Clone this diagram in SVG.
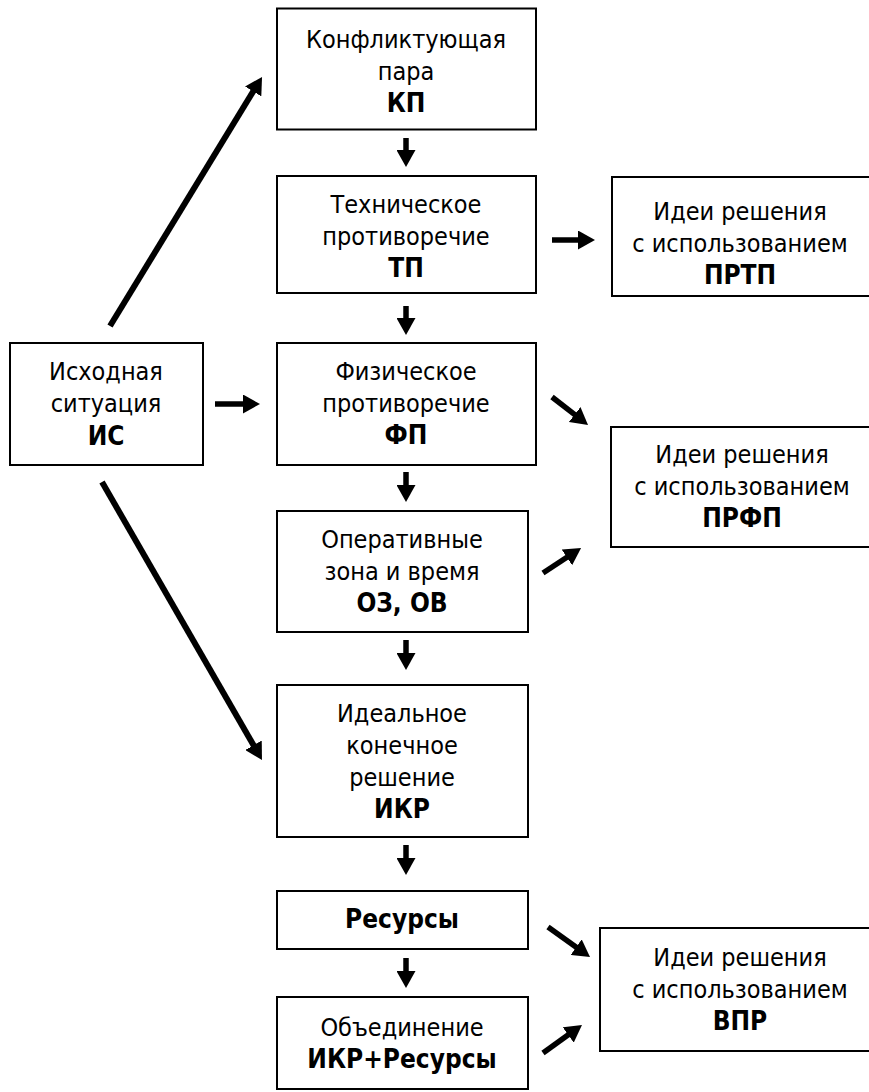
<svg xmlns="http://www.w3.org/2000/svg" width="869" height="1092" viewBox="0 0 869 1092">
<style>
.box{fill:#fff;stroke:#000;stroke-width:2}
text{font-family:"DejaVu Sans Condensed","DejaVu Sans",sans-serif;font-size:25px;fill:#000;text-anchor:middle}
.b{font-weight:bold;font-size:26px}
.c line{stroke:#000;stroke-width:5.5;marker-end:url(#ah)}
.c line.big{stroke-width:6}
</style>
<defs>
<marker id="ah" markerUnits="userSpaceOnUse" markerWidth="18" markerHeight="19" refX="1" refY="9.5" orient="auto" viewBox="0 0 18 19">
<path d="M0,0 L17,9.5 L0,19 z" fill="#000"/>
</marker>
</defs>
<rect width="869" height="1092" fill="#fff"/>
<g id="kp"><rect class="box" x="277" y="8.5" width="259" height="121"/>
<text x="406" y="48">Конфликтующая</text><text x="406" y="80">пара</text><text x="406" y="112" class="b">КП</text></g>
<g id="tp"><rect class="box" x="277" y="176" width="259" height="117"/>
<text x="406" y="213">Техническое</text><text x="406" y="245">противоречие</text><text x="406" y="277" class="b">ТП</text></g>
<g id="prtp"><rect class="box" x="612" y="177" width="270" height="119"/>
<text x="740" y="220">Идеи решения</text><text x="740" y="252">с использованием</text><text x="740" y="284" class="b">ПРТП</text></g>
<g id="is"><rect class="box" x="10" y="343" width="193" height="122"/>
<text x="106" y="380">Исходная</text><text x="106" y="412">ситуация</text><text x="106" y="445" class="b">ИС</text></g>
<g id="fp"><rect class="box" x="277" y="343" width="259" height="122"/>
<text x="406" y="380">Физическое</text><text x="406" y="412">противоречие</text><text x="406" y="444" class="b">ФП</text></g>
<g id="prfp"><rect class="box" x="611" y="427" width="270" height="120"/>
<text x="742" y="463">Идеи решения</text><text x="742" y="495">с использованием</text><text x="742" y="527" class="b">ПРФП</text></g>
<g id="oz"><rect class="box" x="277" y="511" width="251" height="121"/>
<text x="402" y="548">Оперативные</text><text x="402" y="580">зона и время</text><text x="402" y="612" class="b">ОЗ, ОВ</text></g>
<g id="ikr"><rect class="box" x="277" y="685" width="251" height="152"/>
<text x="402" y="722">Идеальное</text><text x="402" y="754">конечное</text><text x="402" y="786">решение</text><text x="402" y="818" class="b">ИКР</text></g>
<g id="res"><rect class="box" x="277" y="891" width="251" height="58"/>
<text x="402" y="928" class="b">Ресурсы</text></g>
<g id="obj"><rect class="box" x="277" y="997" width="251" height="92"/>
<text x="402" y="1036">Объединение</text><text x="402" y="1068" class="b">ИКР+Ресурсы</text></g>
<g id="vpr"><rect class="box" x="600" y="928" width="280" height="123"/>
<text x="740" y="966">Идеи решения</text><text x="740" y="998">с использованием</text><text x="740" y="1030" class="b">ВПР</text></g>
<g id="connectors" class="c">
<line x1="406" y1="138" x2="406" y2="151"/>
<line x1="406" y1="306" x2="406" y2="319"/>
<line x1="406" y1="472" x2="406" y2="486"/>
<line x1="406" y1="640" x2="406" y2="654"/>
<line x1="406" y1="845" x2="406" y2="859"/>
<line x1="406" y1="958" x2="406" y2="972"/>
<line x1="215" y1="404" x2="244" y2="404"/>
<line x1="552" y1="240" x2="579" y2="240"/>
<line x1="552" y1="397" x2="575.4" y2="415.2"/>
<line x1="543" y1="573" x2="567.7" y2="556.8"/>
<line x1="548" y1="927" x2="577" y2="947.7"/>
<line x1="543" y1="1053" x2="569" y2="1034.3"/>
<line class="big" x1="110" y1="326" x2="253.7" y2="90.6"/>
<line class="big" x1="102" y1="482" x2="254" y2="746.1"/>
</g>
</svg>
